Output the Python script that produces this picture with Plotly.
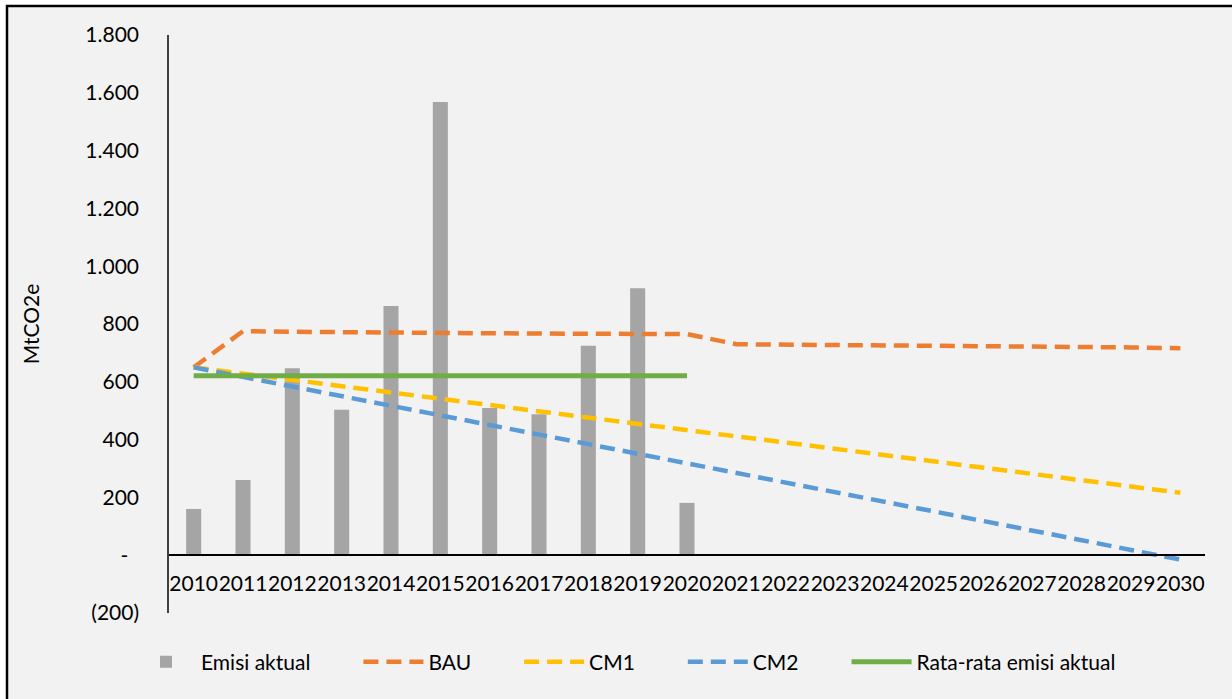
import plotly.graph_objects as go

years = [str(y) for y in range(2010, 2031)]
actual_years = years[:11]
emisi_aktual = [160, 260, 647, 503, 862, 1568, 509, 488, 725, 924, 181]
bau = [650, 775, 773, 771, 770, 769, 768, 767, 767, 766, 765,
       730, 729, 728, 727, 725, 724, 723, 721, 719, 716]
cm1 = [650, 628, 607, 585, 563, 542, 520, 498, 477, 455, 433,
       411, 390, 368, 346, 325, 303, 281, 260, 238, 216]
cm2 = [650, 617, 583, 550, 517, 484, 450, 417, 384, 351, 317,
       284, 251, 218, 185, 151, 118, 85, 52, 18, -15]
rata_rata = [621] * 11

y_tickvals = [-200, 0, 200, 400, 600, 800, 1000, 1200, 1400, 1600, 1800]
y_ticktext = ["(200)", "-\u00a0\u00a0", "200", "400", "600", "800", "1.000",
              "1.200", "1.400", "1.600", "1.800"]

PAD = "\u00a0" * 8
FONT = "Lato"
FS = 21
DASH = "15px,8px"

fig = go.Figure()
fig.add_trace(go.Bar(x=actual_years, y=emisi_aktual, name="Emisi aktual" + PAD,
                     marker=dict(color="#A5A5A5", line=dict(width=0))))
fig.add_trace(go.Scatter(x=years, y=bau, name="BAU" + PAD, mode="lines",
                         line=dict(color="#ED7D31", width=4.5, dash=DASH)))
fig.add_trace(go.Scatter(x=years, y=cm1, name="CM1" + PAD, mode="lines",
                         line=dict(color="#FFC000", width=4.5, dash=DASH)))
fig.add_trace(go.Scatter(x=years, y=cm2, name="CM2" + PAD, mode="lines",
                         line=dict(color="#5B9BD5", width=4.5, dash=DASH)))
fig.add_trace(go.Scatter(x=actual_years, y=rata_rata, name="Rata-rata emisi aktual",
                         mode="lines", line=dict(color="#70AD47", width=5)))

L, R, T, B = 169, 27, 35, 86
W, H = 1232, 699
pw, ph = W - L - R, H - T - B


def px_x(p):
    return (p - L) / pw


def px_y(p):
    return (H - B - p) / ph


fig.update_layout(
    width=W, height=H,
    margin=dict(l=L, r=R, t=T, b=B),
    paper_bgcolor="white",
    plot_bgcolor="rgba(0,0,0,0)",
    font=dict(family=FONT, size=FS, color="#000000"),
    bargap=0.695,
    showlegend=True,
    legend=dict(orientation="h", x=px_x(626), xanchor="center",
                y=px_y(662), yanchor="middle", itemwidth=60,
                font=dict(family=FONT, size=FS, color="#000000"),
                bgcolor="rgba(0,0,0,0)", traceorder="normal"),
    xaxis=dict(type="category", categoryorder="array", categoryarray=years,
               range=[-0.5, len(years) - 0.5],
               anchor="free", position=0.1, showline=True, linecolor="#000000",
               linewidth=1.5, showgrid=False, zeroline=False, ticks="",
               tickangle=0, ticklabelstandoff=10,
               tickfont=dict(family=FONT, size=FS)),
    yaxis=dict(range=[-200, 1800], tickvals=y_tickvals, ticktext=y_ticktext,
               showline=True, linecolor="#404040", linewidth=1.5,
               showgrid=False, zeroline=False, ticks="",
               ticklabelstandoff=24, tickfont=dict(family=FONT, size=FS),
               title=dict(text="MtCO2e", standoff=40,
                          font=dict(family=FONT, size=FS))),
    shapes=[dict(type="rect", xref="paper", yref="paper",
                 x0=px_x(7), x1=px_x(1240), y0=px_y(710), y1=px_y(6),
                 line=dict(color="#000000", width=2.5),
                 fillcolor="#F2F2F2", layer="below")],
)

fig.write_html("out.html",
               config={"displayModeBar": False},
               post_script="document.body.style.margin='0px';"
                           "document.body.style.overflow='hidden';")
